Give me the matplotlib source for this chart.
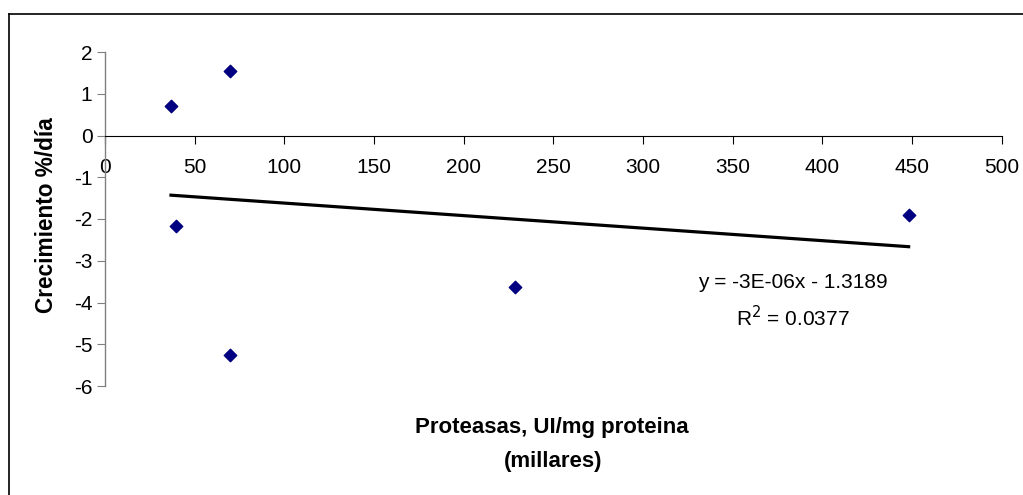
import numpy as np
import matplotlib.pyplot as plt
from matplotlib.lines import Line2D

plt.rcParams['font.family'] = ['Liberation Sans', 'DejaVu Sans']
plt.rcParams['axes.unicode_minus'] = False

# proteasas (miles de UI/mg proteina) vs crecimiento %/dia
proteasas = [36.8, 69.7, 39.6, 69.7, 228.6, 448.1]
crecimiento = [0.71, 1.54, -2.17, -5.26, -3.62, -1.90]

# linear trendline as reported: y = -3E-06x - 1.3189 (x in UI/mg)
slope = -3e-06
intercept = -1.3189
r2 = 0.0377

fig = plt.figure(figsize=(10.23, 4.95), dpi=100)
W, H = 1023, 495
ax = fig.add_axes([105 / W, 1 - 386 / H, (1001.7 - 105) / W, (386 - 52) / H])

ax.scatter(proteasas, crecimiento, marker='D', s=40, color='#000080', zorder=3)

xt = np.array([min(proteasas), max(proteasas)])
ax.plot(xt, slope * xt * 1000 + intercept, color='black', lw=2.3, zorder=2)

ax.set_xlim(0, 500)
ax.set_ylim(-6, 2)
ax.set_xticks(np.arange(0, 501, 50))
ax.set_yticks(np.arange(-6, 3, 1))

ax.spines['top'].set_visible(False)
ax.spines['right'].set_visible(False)
ax.spines['bottom'].set_position(('data', 0))
ax.spines['bottom'].set_color('black')
ax.spines['left'].set_color('#808080')
ax.spines['left'].set_linewidth(1.0)
ax.tick_params(axis='x', direction='out', length=6, width=0.8, pad=10, labelsize=15)
ax.tick_params(axis='y', direction='out', length=6, width=0.8, color='#808080', pad=3, labelsize=15)

ax.text(383.6, -3.53, 'y = -3E-06x - 1.3189', ha='center', va='center', fontsize=15)
ax.text(383.6, -4.35, 'R$^2$ = %.4f' % r2, ha='center', va='center', fontsize=15)

fig.text(47 / W, 1 - 215 / H, 'Crecimiento %/día', rotation=90, ha='center', va='center',
         fontsize=16.3, fontweight='bold')
fig.text(552 / W, 1 - 428 / H, 'Proteasas, UI/mg proteina', ha='center', va='center',
         fontsize=16, fontweight='bold')
fig.text(553 / W, 1 - 462 / H, '(millares)', ha='center', va='center',
         fontsize=16, fontweight='bold')

# chart area border (top and left edges)
fig.add_artist(Line2D([8.5 / W, 1], [1 - 13.5 / H, 1 - 13.5 / H], color='black', lw=1.2))
fig.add_artist(Line2D([8.5 / W, 8.5 / W], [0, 1 - 13.5 / H], color='black', lw=1.2))

fig.savefig('out.png', dpi=100)
